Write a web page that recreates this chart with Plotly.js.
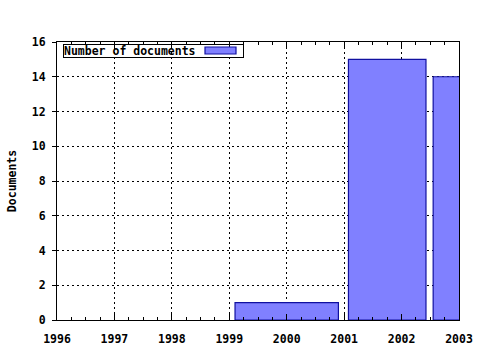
<!DOCTYPE html>
<html><head><meta charset="utf-8">
<script src="https://cdn.plot.ly/plotly-3.0.1.min.js"></script>
<style>body{margin:0;background:#fff}#c{width:480px;height:350px}</style>
</head><body><div id="c"></div>
<script>
const years = [2000, 2001.75, 2003];
const boxWidths = [1.8, 1.35, 0.9];
const documents = [1, 15, 14];
const seriesName = "Number of documents";
const xTicks = [1996, 1997, 1998, 1999, 2000, 2001, 2002, 2003];
const yTicks = [0, 2, 4, 6, 8, 10, 12, 14, 16];

const F = {family: "DejaVu Sans Mono, monospace", size: 11.5, color: "#000", weight: "bold"};
const trace = {
  type: "bar", x: years, y: documents, width: boxWidths, name: seriesName,
  marker: {color: "#8080ff", line: {color: "#1010a0", width: 1.2}},
  showlegend: false, hoverinfo: "skip"
};
const layout = {
  width: 480, height: 350,
  margin: {l: 57, r: 21, t: 42, b: 30},
  paper_bgcolor: "#fff", plot_bgcolor: "#fff",
  font: F,
  xaxis: {
    range: [1996, 2003], tickvals: xTicks, ticktext: xTicks.map(String),
    showgrid: true, gridcolor: "#000", griddash: "2px,3px", gridwidth: 1,
    showline: true, linecolor: "#000", linewidth: 1, mirror: "allticks",
    ticks: "inside", ticklen: 6, tickcolor: "#000", tickfont: F, ticklabelstandoff: 8,
    minor: {dtick: 0.25, tick0: 1996, ticks: "inside", ticklen: 3, tickcolor: "#000", showgrid: false},
    zeroline: false, fixedrange: true
  },
  yaxis: {
    range: [0, 16], tickvals: yTicks, ticktext: yTicks.map(String),
    showgrid: true, gridcolor: "#000", griddash: "2px,3px", gridwidth: 1,
    showline: true, linecolor: "#000", linewidth: 1, mirror: true,
    ticks: "outside", ticklen: 4, tickcolor: "#000", tickfont: F, ticklabelstandoff: 4,
    title: {text: "Documents", font: F, standoff: 12},
    zeroline: false, fixedrange: true
  },
  annotations: [{
    xref: "paper", yref: "paper", x: 6/402, y: 1 - 2/278, xanchor: "left", yanchor: "top",
    text: seriesName, showarrow: false, align: "left", width: 179, height: 12,
    bordercolor: "#000", borderwidth: 1, borderpad: 0, font: F
  }],
  shapes: [{
    type: "rect", xref: "paper", yref: "paper", layer: "above",
    x0: 148/402, x1: 179/402, y0: 1 - 12/278, y1: 1 - 5/278,
    fillcolor: "#8080ff", line: {color: "#1010a0", width: 1.2}
  }]
};
Plotly.newPlot("c", [trace], layout, {staticPlot: true, displayModeBar: false});
</script></body></html>
